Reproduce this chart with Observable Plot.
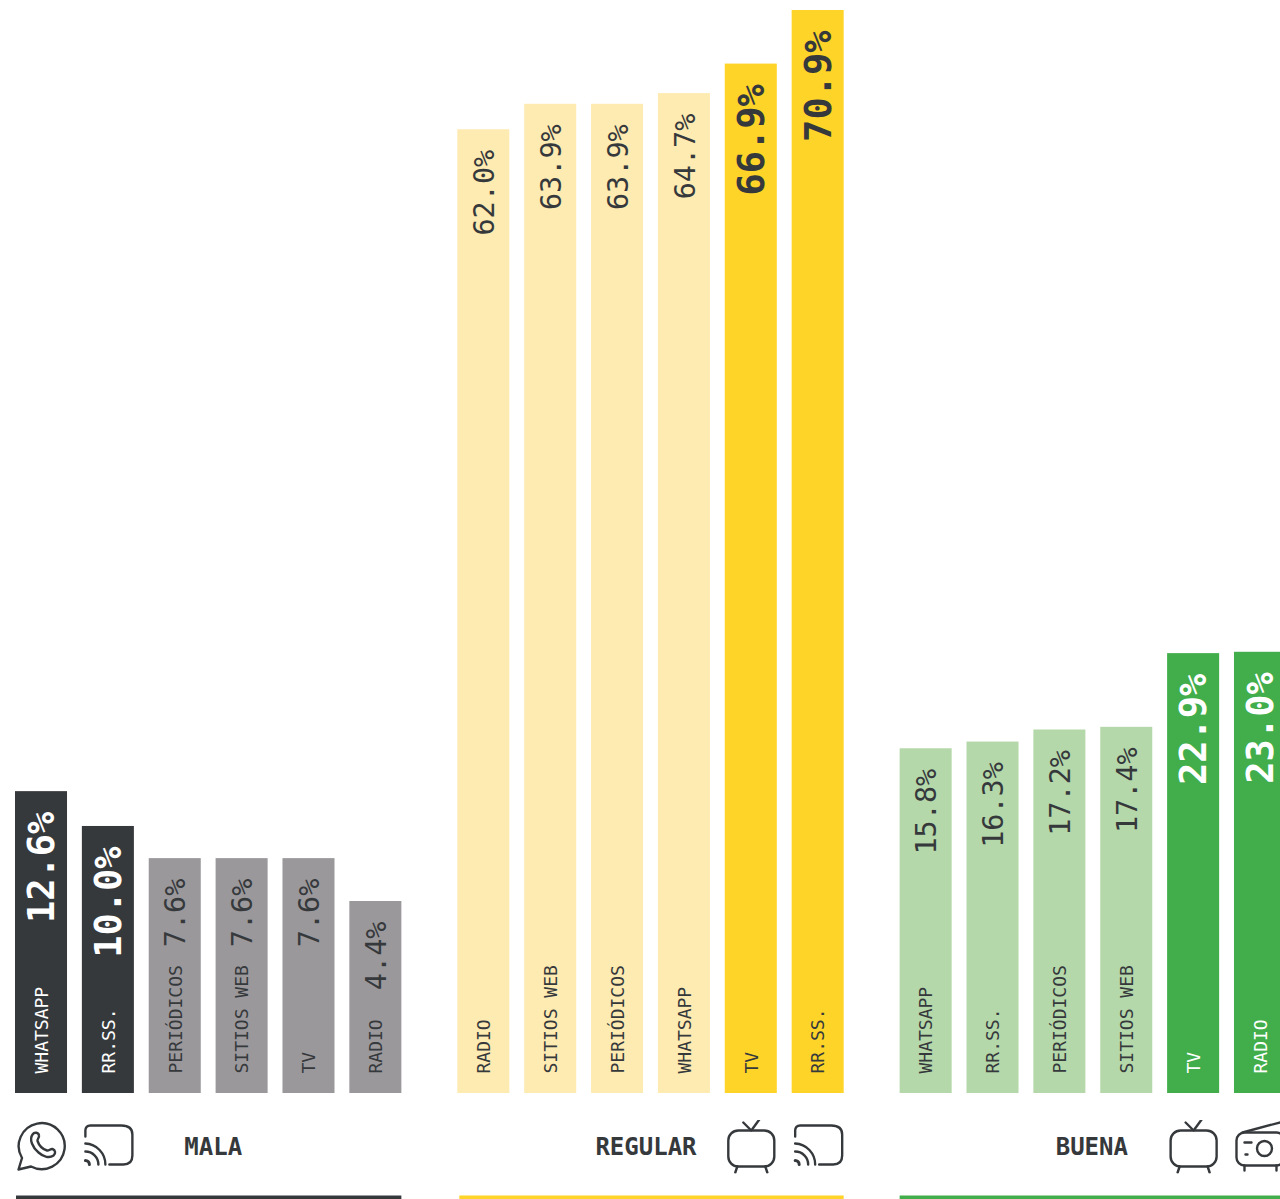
<!DOCTYPE html>
<html>
<head>
<meta charset="utf-8">
<style>
html,body{margin:0;padding:0;background:#fff;overflow:hidden}
svg{display:block}
</style>
<script src="https://cdn.jsdelivr.net/npm/d3@7"></script>
<script src="https://cdn.jsdelivr.net/npm/@observablehq/plot@0.6"></script>
</head>
<body>
<div id="chart"></div>
<script>
const groups = ["MALA", "REGULAR", "BUENA"];
const malaMedia = ["WHATSAPP", "RR.SS.", "PERIÓDICOS", "SITIOS WEB", "TV", "RADIO"];
const malaValues = [12.6, 10.0, 7.6, 7.6, 7.6, 4.4];
const regularMedia = ["RADIO", "SITIOS WEB", "PERIÓDICOS", "WHATSAPP", "TV", "RR.SS."];
const regularValues = [62.0, 63.9, 63.9, 64.7, 66.9, 70.9];
const buenaMedia = ["WHATSAPP", "RR.SS.", "PERIÓDICOS", "SITIOS WEB", "TV", "RADIO"];
const buenaValues = [15.8, 16.3, 17.2, 17.4, 22.9, 23.0];
const yFloor = -9.93;
const yTop = 70.9;
const ink = "#36393c";
const colorKeys = ["MALA-low", "MALA-high", "REGULAR-low", "REGULAR-high", "BUENA-low", "BUENA-high"];
const colorValues = ["#9a989b", "#36393c", "#feebb1", "#fed429", "#b5d8aa", "#41ae4b"];

const svgIcon = (body) => "data:image/svg+xml;utf8," + encodeURIComponent(
  `<svg xmlns="http://www.w3.org/2000/svg" viewBox="0 0 54 54" fill="none" stroke="${ink}" stroke-width="2.4" stroke-linecap="round" stroke-linejoin="round">${body}</svg>`);
const whatsappIcon = svgIcon(`<path d="M4 50 L7.5 38.5 A23 23 0 1 1 16.5 47 Z"/><path d="M18 15 C20 12 24 13 24.5 16 C25 18 22.5 19.5 23 21.5 C24.5 26 28 29.5 32.5 31 C34.5 31.5 36 29 38 29.5 C41 30.5 41.5 34 39 36 C35 39 29 37.5 24 33 C18 28 14.5 20 18 15 Z"/>`);
const castIcon = svgIcon(`<path d="M4 17 V11 Q4 6 9 6 H40 Q51 6 51 15 V36 Q51 45 42 45 H28"/><path d="M4 24 A21 21 0 0 1 24 45"/><path d="M4 32 A13 13 0 0 1 17 45"/><path d="M4 41 A4 4 0 0 1 8 45" stroke-width="3"/>`);
const tvIcon = svgIcon(`<path d="M19 3 L27 11 L35 0"/><rect x="4" y="11" width="46" height="36" rx="10"/><path d="M13 47 L11 53 M41 47 L43 53"/>`);
const radioIcon = svgIcon(`<path d="M9 13 L50 2"/><rect x="3" y="13" width="48" height="33" rx="8"/><circle cx="31" cy="29" r="7.5"/><path d="M11 23 H18 M12 35 H14"/><path d="M11 46 V51 M43 46 V51"/>`);

const mediaByGroup = {MALA: malaMedia, REGULAR: regularMedia, BUENA: buenaMedia};
const valuesByGroup = {MALA: malaValues, REGULAR: regularValues, BUENA: buenaValues};
const isHigh = (g, i) => g === "MALA" ? i < 2 : i > 3;
const rows = groups.flatMap((g) => mediaByGroup[g].map((m, i) => ({
  group: g, media: m, value: valuesByGroup[g][i], slot: i, high: isHigh(g, i), key: `${g}-${isHigh(g, i) ? "high" : "low"}`
})));
const textFill = (d) => d.high && d.group !== "REGULAR" ? "#ffffff" : ink;

const icons = [
  {group: "MALA", slot: 0, src: whatsappIcon},
  {group: "MALA", slot: 1, src: castIcon},
  {group: "REGULAR", slot: 4, src: tvIcon},
  {group: "REGULAR", slot: 5, src: castIcon},
  {group: "BUENA", slot: 4, src: tvIcon},
  {group: "BUENA", slot: 5, src: radioIcon}
];
const titleShift = {MALA: 4.5, REGULAR: -5, BUENA: -1.5};
const ruleInset = {MALA: 1, REGULAR: 2, BUENA: 0};

const chart = Plot.plot({
  width: 1280,
  height: 1199,
  marginTop: 10,
  marginBottom: 106,
  marginLeft: 15,
  marginRight: -6,
  style: {fontFamily: "'DejaVu Sans Mono', monospace", background: "#fff"},
  fx: {domain: groups, axis: null, paddingInner: 0.1265, paddingOuter: 0, round: false},
  x: {domain: d3.range(6), axis: null, paddingInner: 0.222, paddingOuter: 0, round: false},
  y: {domain: [yFloor, yTop], axis: null},
  color: {domain: colorKeys, range: colorValues},
  marks: [
    Plot.barY(rows, {fx: "group", x: "slot", y1: () => yFloor, y2: "value", fill: "key"}),
    Plot.text(rows, {
      filter: (d) => !d.high, fx: "group", x: "slot", y: "value",
      text: (d) => d.value.toFixed(1) + "%", rotate: -90, textAnchor: "end", lineAnchor: "middle",
      dy: 20, dx: 1, fontSize: 28.5, fill: textFill
    }),
    Plot.text(rows, {
      filter: (d) => d.high, fx: "group", x: "slot", y: "value",
      text: (d) => d.value.toFixed(1) + "%", rotate: -90, textAnchor: "end", lineAnchor: "middle",
      dy: 20, dx: 1, fontSize: 37, fontWeight: 700, fill: textFill
    }),
    Plot.text(rows, {
      fx: "group", x: "slot", text: "media", frameAnchor: "bottom",
      rotate: -90, textAnchor: "start", lineAnchor: "middle",
      dy: -20, dx: 0.5, fontSize: 18, fill: textFill
    }),
    Plot.image(icons, {fx: "group", x: "slot", src: "src", frameAnchor: "bottom", width: 54, height: 54, dy: 53}),
    ...groups.map((g) => Plot.text([g], {
      fx: (d) => d, text: (d) => d, frameAnchor: "bottom", textAnchor: "middle", lineAnchor: "middle",
      dx: titleShift[g], dy: 54, fontSize: 24, fontWeight: 700, fill: ink
    })),
    ...groups.map((g, i) => Plot.ruleY([g], {
      fx: (d) => d, y: () => yFloor, dy: 104, strokeWidth: 4, stroke: colorValues[i * 2 + 1], insetLeft: ruleInset[g]
    }))
  ]
});
document.getElementById("chart").appendChild(chart);
</script>
</body>
</html>
